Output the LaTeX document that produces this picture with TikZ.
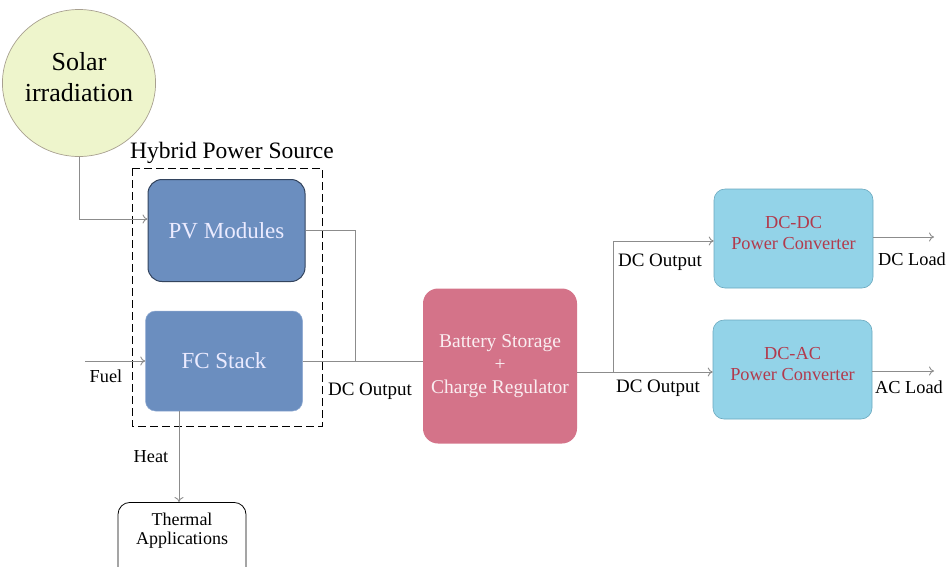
\documentclass[tikz,border=0pt]{standalone}
\usepackage{fontspec}
\setmainfont{Liberation Serif}
\newfontfamily\labelfont{Liberation Serif}
\usetikzlibrary{arrows.meta,shapes.geometric}

\definecolor{sunfill}{HTML}{EEF5CC}
\definecolor{sunedge}{HTML}{A8A090}
\definecolor{srcfill}{HTML}{6B8EBF}
\definecolor{srcedge}{HTML}{33445E}
\definecolor{srcsoft}{HTML}{8FAAD2}
\definecolor{batfill}{HTML}{D47389}
\definecolor{convfill}{HTML}{93D3E8}
\definecolor{convedge}{HTML}{6AA8BE}
\definecolor{convtext}{HTML}{B23A4C}
\definecolor{wire}{HTML}{8C8C8C}

\newcommand\fsz[1]{\labelfont\fontsize{#1}{1.15\dimexpr#1pt\relax}\selectfont}

\tikzset{
  wireline/.style={draw=wire, line width=0.9pt},
  feed/.style={wireline, -{To[length=5pt,width=9pt]}},
  srcbox/.style={rectangle, rounded corners=14pt, fill=srcfill, text=white!92!blue,
    minimum width=157pt, minimum height=102pt, font=\fsz{23}},
  batbox/.style={rectangle, rounded corners=15pt, fill=batfill, text=white!88!batfill,
    minimum width=154pt, minimum height=155pt, align=center, font=\fsz{19.5}},
  convbox/.style={rectangle, rounded corners=11pt, fill=convfill, draw=convedge, line width=0.6pt,
    text=convtext, minimum width=159pt, minimum height=99pt, align=center,
    font=\fsz{18.3}, text depth=11pt},
  lbl/.style={font=\fsz{19}, inner sep=0pt},
  smalllbl/.style={font=\fsz{18.3}, inner sep=0pt},
}

\begin{document}
\begin{tikzpicture}[x=1pt, y=-1pt]
\useasboundingbox (0,0) rectangle (948,566);

% solar source
\node[ellipse, minimum width=138pt, minimum height=147pt, fill=sunfill, draw=sunedge,
  line width=0.7pt, align=center, font=\fsz{26}, inner sep=0pt, text depth=12pt]
  (sun) at (79,83) {Solar\\[1pt]irradiation};

% hybrid source frame
\draw[black, line width=1pt, dash pattern=on 8pt off 4pt] (132,168) rectangle (322,426);
\node[font=\fsz{23.5}, inner sep=0pt] (hybrid) at (232,153) {Hybrid Power Source};

\node[srcbox, draw=srcedge, line width=1pt] (pv) at (226.5,230.5) {PV Modules};
\node[srcbox, draw=srcsoft, line width=0.5pt, rounded corners=10pt, minimum height=100pt] (fc) at (224,361) {FC Stack};

% storage and converters
\node[batbox] (bat) at (500,366) {Battery Storage\\[0.5pt]+\\[0.5pt]Charge Regulator};
\node[convbox] (dcdc) at (793.5,238.5) {DC-DC\\Power Converter};
\node[convbox] (dcac) at (792.5,369.5) {DC-AC\\Power Converter};

% thermal consumer (cut by the lower edge)
\node[draw=black, line width=0.8pt, rounded corners=12pt, anchor=north, minimum width=128pt,
  align=center, font=\fsz{18}, inner ysep=11pt, text depth=40pt]
  (therm) at (182,502) {Thermal\\[-2pt]Applications};

% free ends
\coordinate (fuelin) at (85,361);
\coordinate (dcload) at (934,237);
\coordinate (acload) at (934,371);
\coordinate (bus) at (355,361);
\coordinate (split) at (613,372);

% connectors
\draw[feed] (sun.south) |- (pv.west |- 0,219);
\draw[feed] (fuelin) -- (fc.west |- fuelin);
\draw[feed] (fc.south -| 179,0) -- (therm.north -| 179,0);
\draw[wireline] (pv.east |- 0,230) -| (bus);
\draw[wireline] (fc.east) -- (bat.west |- fc.east);
\draw[feed] (bat.east |- split) -- (dcac.west |- split);
\draw[feed] (split) |- (dcdc.west |- 0,241);
\draw[feed] (dcdc.east |- dcload) -- (dcload);
\draw[feed] (dcac.east |- acload) -- (acload);

% labels on the wires
\node[smalllbl] (fuel) at (106,376) {Fuel};
\node[smalllbl] (heat) at (151,457) {Heat};
\node[lbl] (dcout1) at (370,391) {DC Output};
\node[lbl] (dcout2) at (660,262) {DC Output};
\node[lbl] (dcout3) at (658,388) {DC Output};
\node[smalllbl] (dcl) at (912,259) {DC Load};
\node[smalllbl] (acl) at (909,387) {AC Load};
\end{tikzpicture}
\end{document}
